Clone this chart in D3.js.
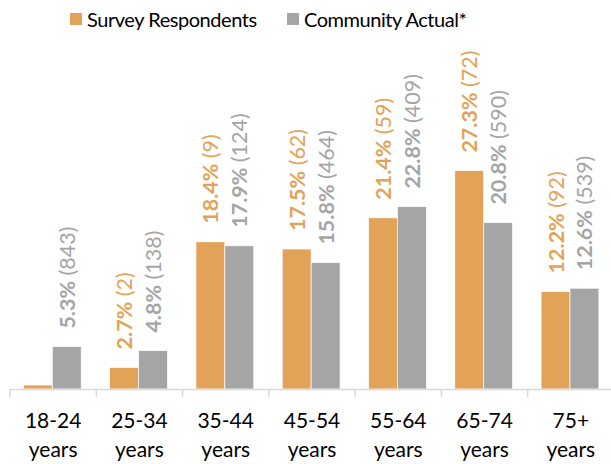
<!DOCTYPE html>
<html><head><meta charset="utf-8">
<script src="https://cdn.jsdelivr.net/npm/d3@7"></script>
<style>body{margin:0;background:#fff;} svg{display:block;}</style>
</head><body>
<svg id="c" width="611" height="464"></svg>
<script>
const categories = ["18-24|years","25-34|years","35-44|years","45-54|years","55-64|years","65-74|years","75+|years"];
const seriesNames = ["Survey Respondents","Community Actual*"];
const surveyPct = [0.5, 2.7, 18.4, 17.5, 21.4, 27.3, 12.2];
const surveyCount = [null, 2, 9, 62, 59, 72, 92];
const communityPct = [5.3, 4.8, 17.9, 15.8, 22.8, 20.8, 12.6];
const communityCount = [843, 138, 124, 464, 409, 590, 539];
const showSurveyLabel = [false, true, true, true, true, true, true];
const colors = ["#E2A358", "#A5A5A5"];
const font = "Lato, 'Open Sans', sans-serif";

const svg = d3.select("#c");
const base = 389;
const x0 = d3.scaleBand().domain(categories).range([10, 614]).padding(0);
const bw = x0.bandwidth();
const x1 = d3.scaleBand().domain([0,1]).range([bw*0.155, bw*0.825]).padding(0);
const y = d3.scaleLinear().domain([0, 30]).range([base, base - 240]);

const data = categories.map((c,i)=>[
  {c, s:0, v:surveyPct[i], n:surveyCount[i], show:showSurveyLabel[i]},
  {c, s:1, v:communityPct[i], n:communityCount[i], show:true}
]);

const g = svg.append("g");
const grp = g.selectAll("g.cat").data(data).join("g").attr("transform", d=>`translate(${x0(d[0].c)},0)`);
grp.selectAll("rect").data(d=>d).join("rect")
  .attr("x", d=>x1(d.s)).attr("width", x1.bandwidth())
  .attr("y", d=>y(d.v)).attr("height", d=>base - y(d.v))
  .attr("fill", d=>colors[d.s]).attr("stroke","#fff").attr("stroke-width",0.7);

grp.selectAll("text.lab").data(d=>d.filter(e=>e.show)).join("text")
  .attr("class","lab")
  .attr("transform", d=>`translate(${x1(d.s)+x1.bandwidth()/2},${y(d.v)-18}) rotate(-90)`)
  .attr("dominant-baseline","central")
  .attr("font-family", font).attr("font-size", 21.5)
  .attr("fill", d=>colors[d.s])
  .each(function(d){
    const t = d3.select(this);
    t.append("tspan").attr("font-weight","bold").text(d.v.toFixed(1)+"%");
    t.append("tspan").text(" ("+d.n+")");
  });

// axis
const axis = d3.axisBottom(x0).tickSize(0).tickFormat("");
const ax = svg.append("g").attr("transform",`translate(0,${base})`).call(axis);
ax.select(".domain").attr("stroke","#D9D9D9").attr("stroke-width",1.5);
const bounds = categories.map(c=>x0(c)).concat([x0.range()[1]]);
ax.selectAll("line.tk").data(bounds).join("line").attr("class","tk")
  .attr("x1",d=>d).attr("x2",d=>d).attr("y1",0).attr("y2",8)
  .attr("stroke","#D9D9D9").attr("stroke-width",1.5);
ax.selectAll("text.xl").data(categories).join("text").attr("class","xl")
  .attr("x", d=>x0(d)+bw/2).attr("text-anchor","middle")
  .attr("font-family", font).attr("font-size", 21).attr("fill","#000")
  .each(function(d){
    const parts = d.split("|");
    const t = d3.select(this);
    parts.forEach((p,i)=>t.append("tspan").attr("x", x0(d)+bw/2).attr("y", 39 + i*29).text(p));
  });

// legend
const leg = svg.append("g");
const legX = [70, 287];
seriesNames.forEach((n,i)=>{
  leg.append("rect").attr("x",legX[i]).attr("y",13).attr("width",12).attr("height",12).attr("fill",colors[i]);
  leg.append("text").attr("x",legX[i]+17).attr("y",27).attr("font-family",font).attr("font-size",20)
    .attr("letter-spacing",-0.45).attr("fill","#000").text(n);
});
</script>
</body></html>
